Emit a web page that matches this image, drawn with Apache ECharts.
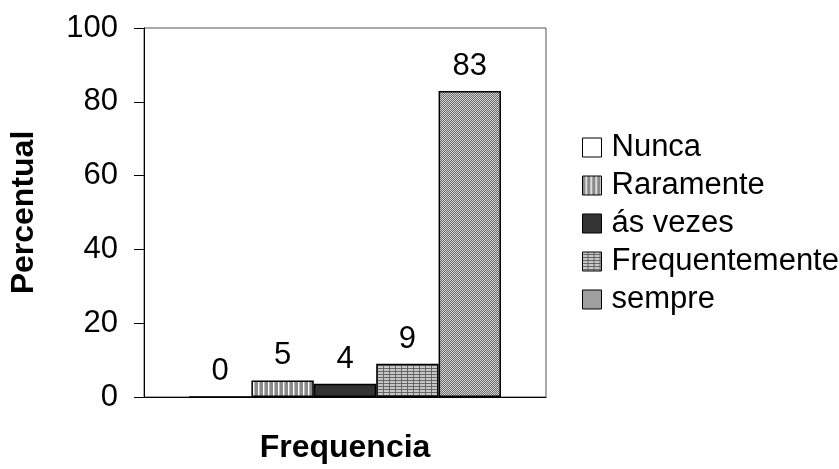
<!DOCTYPE html>
<html><head><meta charset="utf-8">
<script src="https://cdn.jsdelivr.net/npm/echarts@6/dist/echarts.min.js"></script>
<style>html,body{margin:0;padding:0;background:#fff}#c{width:839px;height:469px}</style>
</head><body><div id="c"></div>
<script>
const categories = ['Frequencia'];
const seriesNames = ['Nunca', 'Raramente', 'ás vezes', 'Frequentemente', 'sempre'];
const seriesValues = [0, 4.5, 3.6, 9.0, 82.9];
const yTicks = [0, 20, 40, 60, 80, 100];

function pat(w, h, draw) {
  const c = document.createElement('canvas');
  c.width = w; c.height = h;
  const g = c.getContext('2d');
  draw(g);
  return { image: c, repeat: 'repeat' };
}
const fills = [
  '#ffffff',
  pat(5, 1, g => { g.fillStyle = '#8a8a8a'; g.fillRect(0,0,5,1); g.fillStyle = '#ffffff'; g.fillRect(3,0,1,1); g.fillStyle = '#b8b8b8'; g.fillRect(4,0,1,1); }),
  '#333333',
  pat(6, 3, g => { g.fillStyle = '#c8c8c8'; g.fillRect(0,0,6,3); g.fillStyle = '#666'; g.fillRect(0,2,6,1); g.fillRect(5,0,1,3); }),
  pat(2, 2, g => { g.fillStyle = '#d4d4d4'; g.fillRect(0,0,2,2); g.fillStyle = '#6a6a6a'; g.fillRect(1,0,1,1); g.fillRect(0,1,1,1); })
];

const font = 'Liberation Sans, Arial, sans-serif';
const chart = echarts.init(document.getElementById('c'), null, { renderer: 'canvas' });
chart.setOption({
  animation: false,
  grid: { left: 144, right: 293, top: 28, bottom: 71, show: true, borderColor: '#555', borderWidth: 1, backgroundColor: '#fff' },
  legend: {
    orient: 'vertical', left: 577, top: 127, itemWidth: 19, itemHeight: 19, itemGap: 7,
    icon: 'rect',
    itemStyle: { borderColor: '#000', borderWidth: 1 },
    textStyle: { fontFamily: font, fontSize: 31, color: '#000', lineHeight: 31, padding: [0, 0, 0, 5] },
    data: seriesNames
  },
  xAxis: {
    type: 'category', data: categories,
    name: 'Frequencia', nameLocation: 'middle', nameGap: 35,
    nameTextStyle: { fontFamily: font, fontSize: 32, fontWeight: 'bold', color: '#000' },
    axisLine: { lineStyle: { color: '#000', width: 1 } },
    axisTick: { show: false }, axisLabel: { show: false }
  },
  yAxis: {
    type: 'value', min: yTicks[0], max: yTicks[yTicks.length - 1], interval: 20,
    name: 'Percentual', nameLocation: 'middle', nameGap: 104, nameRotate: 90,
    nameTextStyle: { fontFamily: font, fontSize: 32, fontWeight: 'bold', color: '#000' },
    axisLine: { show: true, lineStyle: { color: '#000', width: 1 } },
    axisTick: { show: true, length: 10, lineStyle: { color: '#000' } },
    axisLabel: { fontFamily: font, fontSize: 31, color: '#000', margin: 26 },
    splitLine: { show: false }
  },
  series: seriesNames.map((n, i) => ({
    name: n, type: 'bar', data: [seriesValues[i]],
    barGap: '0%', barCategoryGap: '22.4%',
    itemStyle: { color: fills[i], borderColor: '#000', borderWidth: 1.5 },
    label: { show: true, position: 'top', distance: 9, fontFamily: font, fontSize: 31, color: '#000',
      formatter: p => String(Math.round(p.value)) }
  }))
});
</script></body></html>
